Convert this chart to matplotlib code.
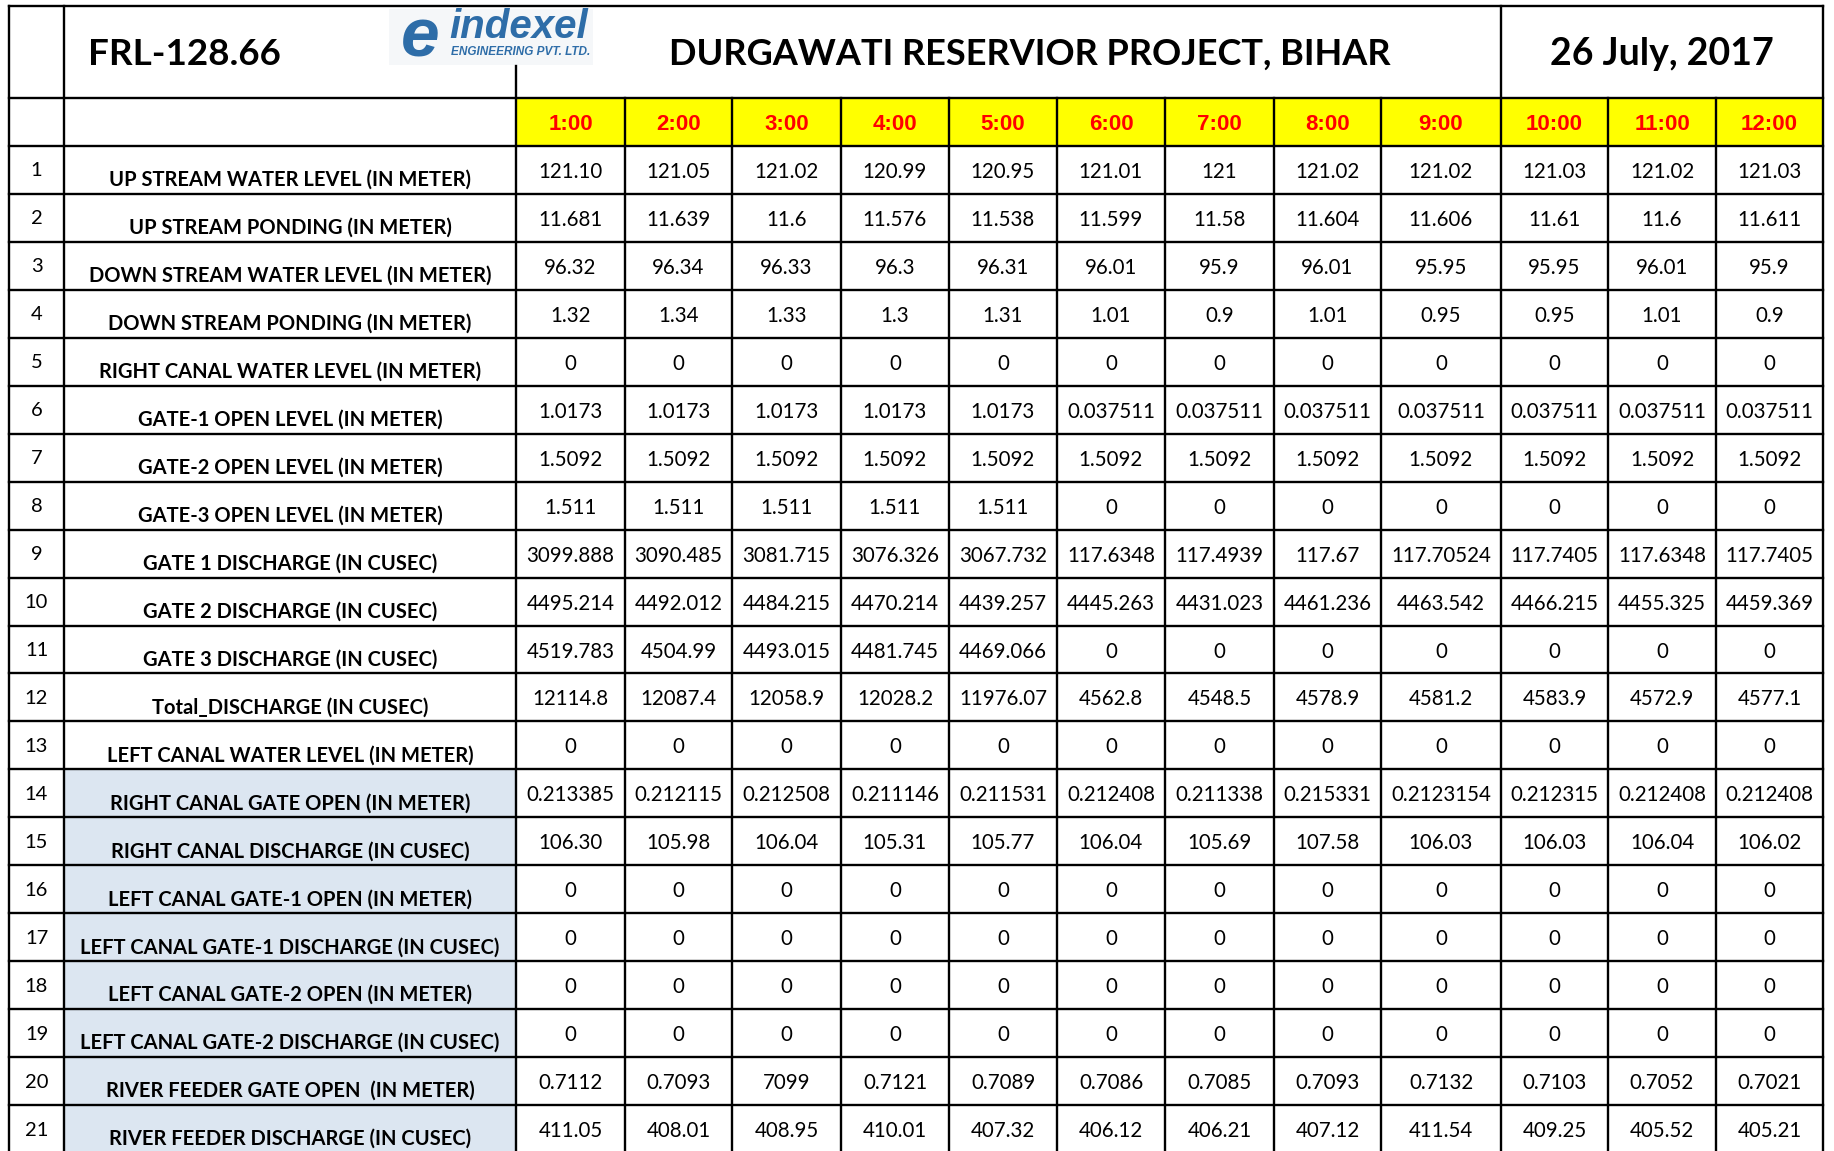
import matplotlib
matplotlib.use("Agg")
import matplotlib.pyplot as plt
from matplotlib.patches import Rectangle

# --- data -------------------------------------------------------------
frl_label = "FRL-128.66"
title = "DURGAWATI RESERVIOR PROJECT, BIHAR"
date_label = "26 July, 2017"
times = ["1:00", "2:00", "3:00", "4:00", "5:00", "6:00",
         "7:00", "8:00", "9:00", "10:00", "11:00", "12:00"]

row_labels = [
    "UP STREAM WATER LEVEL (IN METER)",
    "UP STREAM PONDING (IN METER)",
    "DOWN STREAM WATER LEVEL (IN METER)",
    "DOWN STREAM PONDING (IN METER)",
    "RIGHT CANAL WATER LEVEL (IN METER)",
    "GATE-1 OPEN LEVEL (IN METER)",
    "GATE-2 OPEN LEVEL (IN METER)",
    "GATE-3 OPEN LEVEL (IN METER)",
    "GATE 1 DISCHARGE (IN CUSEC)",
    "GATE 2 DISCHARGE (IN CUSEC)",
    "GATE 3 DISCHARGE (IN CUSEC)",
    "Total_DISCHARGE (IN CUSEC)",
    "LEFT CANAL WATER LEVEL (IN METER)",
    "RIGHT CANAL GATE OPEN (IN METER)",
    "RIGHT CANAL DISCHARGE (IN CUSEC)",
    "LEFT CANAL GATE-1 OPEN (IN METER)",
    "LEFT CANAL GATE-1 DISCHARGE (IN CUSEC)",
    "LEFT CANAL GATE-2 OPEN (IN METER)",
    "LEFT CANAL GATE-2 DISCHARGE (IN CUSEC)",
    "RIVER FEEDER GATE OPEN  (IN METER)",
    "RIVER FEEDER DISCHARGE (IN CUSEC)",
]
shaded_from = 14  # rows 14..21 have blue label cells

zeros = ["0"] * 12
us_level = ["121.10", "121.05", "121.02", "120.99", "120.95", "121.01", "121", "121.02", "121.02", "121.03", "121.02", "121.03"]
us_ponding = ["11.681", "11.639", "11.6", "11.576", "11.538", "11.599", "11.58", "11.604", "11.606", "11.61", "11.6", "11.611"]
ds_level = ["96.32", "96.34", "96.33", "96.3", "96.31", "96.01", "95.9", "96.01", "95.95", "95.95", "96.01", "95.9"]
ds_ponding = ["1.32", "1.34", "1.33", "1.3", "1.31", "1.01", "0.9", "1.01", "0.95", "0.95", "1.01", "0.9"]
rc_level = zeros
gate1_open = ["1.0173"] * 5 + ["0.037511"] * 7
gate2_open = ["1.5092"] * 12
gate3_open = ["1.511"] * 5 + ["0"] * 7
gate1_q = ["3099.888", "3090.485", "3081.715", "3076.326", "3067.732", "117.6348", "117.4939", "117.67", "117.70524", "117.7405", "117.6348", "117.7405"]
gate2_q = ["4495.214", "4492.012", "4484.215", "4470.214", "4439.257", "4445.263", "4431.023", "4461.236", "4463.542", "4466.215", "4455.325", "4459.369"]
gate3_q = ["4519.783", "4504.99", "4493.015", "4481.745", "4469.066"] + ["0"] * 7
total_q = ["12114.8", "12087.4", "12058.9", "12028.2", "11976.07", "4562.8", "4548.5", "4578.9", "4581.2", "4583.9", "4572.9", "4577.1"]
lc_level = zeros
rc_gate = ["0.213385", "0.212115", "0.212508", "0.211146", "0.211531", "0.212408", "0.211338", "0.215331", "0.2123154", "0.212315", "0.212408", "0.212408"]
rc_q = ["106.30", "105.98", "106.04", "105.31", "105.77", "106.04", "105.69", "107.58", "106.03", "106.03", "106.04", "106.02"]
lc1_open = zeros
lc1_q = zeros
lc2_open = zeros
lc2_q = zeros
rf_open = ["0.7112", "0.7093", "7099", "0.7121", "0.7089", "0.7086", "0.7085", "0.7093", "0.7132", "0.7103", "0.7052", "0.7021"]
rf_q = ["411.05", "408.01", "408.95", "410.01", "407.32", "406.12", "406.21", "407.12", "411.54", "409.25", "405.52", "405.21"]

values = [us_level, us_ponding, ds_level, ds_ponding, rc_level, gate1_open,
          gate2_open, gate3_open, gate1_q, gate2_q, gate3_q, total_q, lc_level,
          rc_gate, rc_q, lc1_open, lc1_q, lc2_open, lc2_q, rf_open, rf_q]

# --- layout (pixels) --------------------------------------------------
W, H = 1834, 1151
x_left, x_num, x_lab = 9, 64, 516
col_edges = [516, 625, 732, 841, 949, 1057, 1165, 1274, 1381, 1501, 1608, 1716, 1823]
y_top, y_title, y_head = 6, 98, 146
row_h = (1153 - y_head) / len(row_labels)
y_rows = [y_head + i * row_h for i in range(len(row_labels) + 1)]
lw = 1.7

fig = plt.figure(figsize=(W / 100, H / 100), dpi=100)
ax = fig.add_axes([0, 0, 1, 1])
ax.set_xlim(0, W)
ax.set_ylim(H, 0)
ax.axis("off")

body = "Lato"
head_font = "Liberation Sans"

# fills
for i in range(len(times)):
    ax.add_patch(Rectangle((col_edges[i], y_title), col_edges[i + 1] - col_edges[i],
                           y_head - y_title, facecolor="#FFFF00", edgecolor="none"))
for r in range(shaded_from - 1, len(row_labels)):
    ax.add_patch(Rectangle((x_num, y_rows[r]), x_lab - x_num, row_h,
                           facecolor="#DCE6F1", edgecolor="none"))

# grid lines
y_bot = y_rows[-1]
for y in [y_top, y_title] + y_rows:
    ax.plot([x_left, col_edges[-1]], [y, y], color="black", lw=lw, solid_capstyle="projecting")
ax.plot([x_left, x_left], [y_top, y_bot], color="black", lw=lw)
ax.plot([x_num, x_num], [y_top, y_bot], color="black", lw=lw)
ax.plot([col_edges[-1], col_edges[-1]], [y_top, y_bot], color="black", lw=lw)
for i, x in enumerate(col_edges[:-1]):
    y0 = y_title if i not in (0, 9) else y_top
    if i == 0:
        y0 = 66
    ax.plot([x, x], [y0, y_bot], color="black", lw=lw)

# title row
yc = (y_top + y_title) / 2 + 2
ax.text(88, yc, frl_label, fontsize=26.5, fontweight="bold", family=body,
        ha="left", va="center")
ax.text(1030, yc, title, fontsize=26, fontweight="bold", family=body,
        ha="center", va="center")
ax.text((col_edges[9] + col_edges[-1]) / 2, yc, date_label, fontsize=27,
        fontweight="bold", family=body, ha="center", va="center")

# logo
ax.add_patch(Rectangle((389, 9), 204, 56, facecolor="#F5F7F9", edgecolor="none"))
ax.text(420, 38, "e", fontsize=50, fontweight="bold", style="italic",
        family=head_font, color="#2E6DA8", ha="center", va="center")
ax.text(449, 27, "indexel", fontsize=29, fontweight="bold", style="italic",
        family=head_font, color="#2E6DA8", ha="left", va="center")
ax.text(451, 52, "ENGINEERING PVT. LTD.", fontsize=8.5, fontweight="bold",
        style="italic", family=head_font, color="#2E6DA8", ha="left", va="center")

# header row
yh = (y_title + y_head) / 2 + 2
for i, t in enumerate(times):
    ax.text((col_edges[i] + col_edges[i + 1]) / 2, yh, t, fontsize=16,
            fontweight="bold", family=head_font, color="#FF0000",
            ha="center", va="center")

# body rows
for r, (lab, vals) in enumerate(zip(row_labels, values)):
    y0, y1 = y_rows[r], y_rows[r + 1]
    ym = (y0 + y1) / 2
    ax.text((x_left + x_num) / 2, ym + 1, str(r + 1), fontsize=14.5, family=body,
            ha="center", va="center")
    ax.text((x_num + x_lab) / 2, ym + 10, lab, fontsize=14.5, fontweight="bold",
            family=body, ha="center", va="center")
    for i, v in enumerate(vals):
        ax.text((col_edges[i] + col_edges[i + 1]) / 2, ym + 2, v, fontsize=14.8,
                family=body, ha="center", va="center")

fig.savefig("out.png", dpi=100, facecolor="white")
